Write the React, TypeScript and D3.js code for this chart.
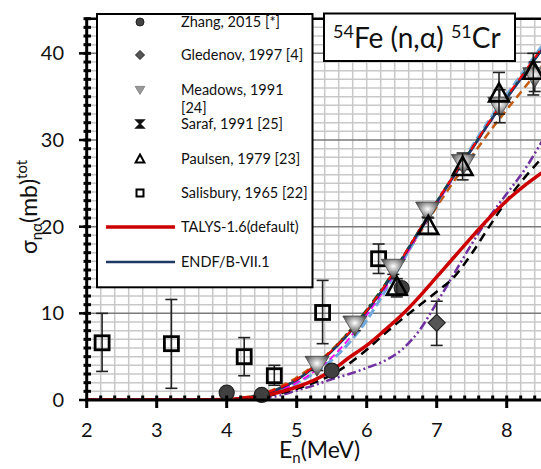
import React from 'react';
import * as d3 from 'd3';

const W = 541, H = 469;
const FONT = 'Lato, "Open Sans", sans-serif';

// ---- data ----
const xTicks = [2, 3, 4, 5, 6, 7, 8];
const yTicks = [0, 10, 20, 30, 40];

const zhang = [[4.0, 0.85], [4.5, 0.58], [5.5, 3.4], [6.5, 12.9]];
const gledenov = [[7.0, 8.9, 6.3, 11.4]];
const meadows = [[5.29, 4.0, 3.4, 4.6], [5.83, 8.65, 8.0, 9.3], [6.38, 15.2, 14.5, 15.9], [6.87, 21.8, 21.1, 22.5], [7.38, 27.3, 26.6, 28.0], [7.9, 33.9, 32.0, 35.8], [8.4, 37.3, 35.6, 39.0]];
const paulsen = [[6.43, 13.1, 11.9, 14.0], [6.88, 20.1, 19.2, 21.0], [7.37, 26.9, 25.4, 28.5], [7.89, 35.4, 33.0, 37.8], [8.38, 38.0, 35.2, 40.0]];
const salisbury = [[2.22, 6.6, 3.3, 10.0], [3.21, 6.5, 1.35, 11.6], [4.25, 5.0, 2.8, 7.2], [4.68, 2.8, 1.7, 4.0], [5.37, 10.1, 6.5, 13.8], [6.17, 16.3, 14.6, 18.0]];

const curveX = [2, 3, 3.5, 4, 4.25, 4.5, 4.75, 5, 5.25, 5.5, 5.75, 6, 6.25, 6.5, 6.75, 7, 7.25, 7.5, 7.75, 8, 8.25, 8.5];
const endf = [0, 0, 0, 0.05, 0.25, 0.6, 1.3, 2.3, 3.8, 5.6, 7.7, 10.2, 13.0, 16.2, 19.5, 22.8, 25.9, 28.9, 32.0, 34.8, 37.6, 40.4];
const redDash = [0, 0, 0, 0.05, 0.3, 0.7, 1.4, 2.4, 3.9, 5.7, 7.8, 10.3, 13.1, 16.3, 19.6, 22.9, 26.0, 29.0, 32.1, 35.0, 37.8, 40.6];
const greenDashDot = [0, 0, 0, 0.05, 0.25, 0.65, 1.35, 2.35, 3.9, 5.7, 7.9, 10.4, 13.2, 16.3, 19.6, 22.9, 26.0, 29.0, 32.0, 34.9, 37.7, 40.5];
const lightBlue = [0, 0, 0, 0.02, 0.15, 0.45, 1.0, 1.9, 3.1, 4.6, 6.6, 9.2, 12.4, 15.8, 19.3, 22.7, 26.0, 29.2, 32.3, 35.2, 38.0, 40.8];
const magenta = [0, 0, 0, 0.03, 0.2, 0.5, 1.1, 2.0, 3.3, 4.9, 7.1, 9.8, 12.7, 15.9, 19.3, 22.6, 25.8, 28.9, 31.9, 34.8, 37.6, 40.4];
const brown = [0, 0, 0, 0.05, 0.3, 0.7, 1.5, 2.6, 4.0, 5.8, 7.9, 10.3, 13.0, 16.0, 19.2, 22.3, 25.3, 28.1, 30.9, 33.5, 36.0, 38.5];
const talys = [0, 0, 0, 0.05, 0.2, 0.45, 0.9, 1.5, 2.3, 3.4, 4.9, 6.3, 8.0, 9.8, 11.9, 14.2, 16.5, 18.8, 21.0, 23.0, 24.7, 26.2];
const blackDash = [0, 0, 0, 0.03, 0.15, 0.35, 0.75, 1.3, 2.0, 2.9, 4.2, 5.8, 7.6, 9.3, 10.9, 12.5, 14.2, 16.9, 20.0, 23.0, 25.6, 27.9];
const purple = [0, 0, 0, 0.01, 0.08, 0.2, 0.5, 1.1, 1.7, 2.4, 3.0, 3.7, 4.5, 5.8, 8.0, 11.2, 14.6, 18.0, 21.1, 23.8, 26.5, 29.8];

const legendLabels = ['Zhang, 2015 [*]', 'Gledenov, 1997 [4]', 'Meadows, 1991', 'Saraf, 1991 [25]', 'Paulsen, 1979 [23]', 'Salisbury, 1965 [22]', 'TALYS-1.6(default)', 'ENDF/B-VII.1'];

// ---- scales ----
const x = d3.scaleLinear().domain([2, 8.5]).range([86.7, 541.7]);
const y = d3.scaleLinear().domain([0, 44]).range([400, 18.7]);

const line = d3.line<number>().x((_, i) => x(curveX[i])).y((v) => y(v)).curve(d3.curveMonotoneX);

const curves = [
  { d: purple, stroke: '#7030a0', w: 2.5, dash: '9 3 2 3 2 3' },
  { d: blackDash, stroke: '#000', w: 2.5, dash: '9 6' },
  { d: brown, stroke: '#c55a11', w: 2.5, dash: '8 5' },
  { d: lightBlue, stroke: '#6fa8dc', w: 3, dash: '9 4' },
  { d: magenta, stroke: '#ff00ff', w: 1.8, dash: '7 4' },
  { d: greenDashDot, stroke: '#1e5c1e', w: 2.5, dash: '10 3 3 3' },
  { d: endf, stroke: '#1f3864', w: 2.5, dash: null },
  { d: redDash, stroke: '#ff0000', w: 2, dash: '8 6' },
  { d: talys, stroke: '#cc0000', w: 3.5, dash: null },
];

function ErrBar({ px, lo, hi }: { px: number; lo: number; hi: number }) {
  return (
    <g stroke="#222" strokeWidth={1.6}>
      <line x1={px} x2={px} y1={y(lo)} y2={y(hi)} />
      <line x1={px - 6} x2={px + 6} y1={y(lo)} y2={y(lo)} />
      <line x1={px - 6} x2={px + 6} y1={y(hi)} y2={y(hi)} />
    </g>
  );
}

const triDown = (s: number) => `M${-s * 0.6},${-s * 0.45}L${s * 0.6},${-s * 0.45}L0,${s * 0.55}Z`;
const triUp = (s: number) => `M0,${-s * 0.55}L${s * 0.55},${s * 0.45}L${-s * 0.55},${s * 0.45}Z`;

export default function App() {
  const gridX = d3.range(2.2, 8.5, 0.2);
  const gridY = d3.range(1, 45, 1);
  const minorX = d3.range(2.2, 8.5, 0.2);
  const minorY = d3.range(1, 45, 1);
  const legendY = [22, 55, 90, 124, 159, 193, 227, 262];
  const lx = 140, tx = 181;
  return (
    <svg width={W} height={H} style={{ position: 'absolute', left: 0, top: 0, background: '#fff' }} fontFamily={FONT}>
      <defs>
        <clipPath id="plot"><rect x={86.7} y={18.7} width={460} height={381.3} /></clipPath>
        <radialGradient id="mg" cx="50%" cy="35%" r="65%">
          <stop offset="0%" stopColor="#ffffff" />
          <stop offset="40%" stopColor="#a8a8a8" />
          <stop offset="100%" stopColor="#2e2e2e" />
        </radialGradient>
      </defs>
      <rect width={W} height={H} fill="#fff" />
      {/* grid */}
      <g>
        {gridX.map((v) => (
          <line key={'gx' + v} x1={x(v)} x2={x(v)} y1={18.7} y2={400} stroke="#c8c8c8" strokeWidth={1.5} />
        ))}
        {gridY.map((v) => (
          <line key={'gy' + v} x1={86.7} x2={541} y1={y(v)} y2={y(v)} stroke={v % 10 === 0 ? '#7a7a7a' : '#c8c8c8'} strokeWidth={1.5} />
        ))}
      </g>
      {/* curves */}
      <g clipPath="url(#plot)" fill="none">
        {curves.map((c, i) => (
          <path key={i} d={line(c.d) || ''} stroke={c.stroke} strokeWidth={c.w} strokeDasharray={c.dash || undefined} />
        ))}
      </g>
      {/* Salisbury */}
      <g>
        {salisbury.map((p, i) => (
          <g key={'s' + i}>
            <ErrBar px={x(p[0])} lo={p[2]} hi={p[3]} />
            <rect x={x(p[0]) - 7} y={y(p[1]) - 7} width={14} height={14} fill="none" stroke="#000" strokeWidth={2.8} />
          </g>
        ))}
      </g>
      {/* Zhang */}
      {zhang.map((p, i) => (
        <circle key={'z' + i} cx={x(p[0])} cy={y(p[1])} r={7.5} fill="#404040" stroke="#222" strokeWidth={1.2} />
      ))}
      {/* Gledenov */}
      {gledenov.map((p, i) => (
        <g key={'g' + i}>
          <ErrBar px={x(p[0])} lo={p[2]} hi={p[3]} />
          <path transform={`translate(${x(p[0])},${y(p[1])})`} d="M0,-8.5L8.5,0L0,8.5L-8.5,0Z" fill="#555" stroke="#222" strokeWidth={1.2} />
        </g>
      ))}
      {/* Meadows */}
      {meadows.map((p, i) => (
        <g key={'m' + i}>
          <ErrBar px={x(p[0])} lo={p[2]} hi={p[3]} />
          <path transform={`translate(${x(p[0])},${y(p[1])})`} d={triDown(20)} fill="url(#mg)" stroke="#444" strokeWidth={0.8} />
        </g>
      ))}
      {/* Paulsen */}
      {paulsen.map((p, i) => (
        <g key={'p' + i}>
          <ErrBar px={x(p[0])} lo={p[2]} hi={p[3]} />
          <path transform={`translate(${x(p[0])},${y(p[1])})`} d={triUp(18)} fill="none" stroke="#000" strokeWidth={2.6} />
        </g>
      ))}
      {/* axes */}
      <g stroke="#000">
        <line x1={86.7} x2={541} y1={18.7} y2={18.7} strokeWidth={2.5} />
        <line x1={86.7} x2={86.7} y1={17.5} y2={401.5} strokeWidth={3} />
        <line x1={85} x2={541} y1={400} y2={400} strokeWidth={3} />
        {minorY.map((v) => (
          <line key={'my' + v} x1={83.5} x2={91} y1={y(v)} y2={y(v)} strokeWidth={3} />
        ))}
        {yTicks.map((v) => (
          <line key={'ty' + v} x1={79} x2={87} y1={y(v)} y2={y(v)} strokeWidth={2.5} />
        ))}
        {minorX.map((v) => (
          <line key={'mx' + v} x1={x(v)} x2={x(v)} y1={395.5} y2={400} strokeWidth={3} />
        ))}
        {xTicks.map((v) => (
          <line key={'tx' + v} x1={x(v)} x2={x(v)} y1={400} y2={408} strokeWidth={3} />
        ))}
      </g>
      <g fontSize={20} fill="#111">
        {yTicks.map((v) => (
          <text key={'ly' + v} x={64} y={y(v) + 7} textAnchor="end">{v}</text>
        ))}
        {xTicks.map((v) => (
          <text key={'lx' + v} x={x(v)} y={437} textAnchor="middle">{v}</text>
        ))}
      </g>
      {/* axis titles */}
      <text x={279} y={458} fontSize={23} fill="#111">
        E<tspan fontSize={15} dy={5}>n</tspan><tspan dy={-5}>(MeV)</tspan>
      </text>
      <text transform="translate(37,254) rotate(-90)" fontSize={23} fill="#111">
        σ<tspan fontSize={15} dy={5}>nα</tspan><tspan dy={-5}>(mb)</tspan><tspan fontSize={15} dy={-10}>tot</tspan>
      </text>
      {/* legend */}
      <rect x={97} y={14} width={215.5} height={273.3} fill="#fff" stroke="#000" strokeWidth={2} />
      <g fontSize={14.5} fill="#111">
        {legendLabels.map((l, i) => (
          <text key={'lg' + i} x={tx} y={legendY[i] + 5}>{l}</text>
        ))}
        <text x={tx} y={legendY[2] + 23}>[24]</text>
      </g>
      <circle cx={lx} cy={legendY[0]} r={4} fill="#444" stroke="#222" />
      <path transform={`translate(${lx},${legendY[1]})`} d="M0,-4.5L4.5,0L0,4.5L-4.5,0Z" fill="#555" stroke="#222" />
      <path transform={`translate(${lx},${legendY[2]})`} d={triDown(8)} fill="#999" stroke="#888" />
      <path transform={`translate(${lx},${legendY[3]})`} d="M-4,-4L4,-4L-4,4L4,4Z" fill="#111" stroke="#111" strokeWidth={1.5} />
      <path transform={`translate(${lx},${legendY[4]})`} d={triUp(8)} fill="#fff" stroke="#000" strokeWidth={2} />
      <rect x={lx - 3.5} y={legendY[5] - 3.5} width={7} height={7} fill="#fff" stroke="#000" strokeWidth={2} />
      <line x1={106} x2={175} y1={legendY[6]} y2={legendY[6]} stroke="#cc0000" strokeWidth={3.5} />
      <line x1={106} x2={175} y1={legendY[7]} y2={legendY[7]} stroke="#1f3864" strokeWidth={2.5} />
      {/* title */}
      <rect x={324} y={13.5} width={191} height={47.5} fill="#fff" stroke="#000" strokeWidth={2} />
      <text x={333} y={48} fontSize={28} fill="#111">
        <tspan fontSize={18} dy={-10}>54</tspan><tspan dy={10}>Fe (n,α) </tspan><tspan fontSize={18} dy={-10}>51</tspan><tspan dy={10}>Cr</tspan>
      </text>
    </svg>
  );
}
